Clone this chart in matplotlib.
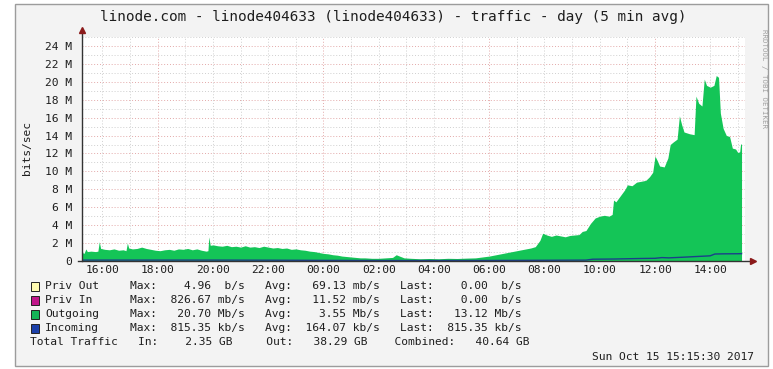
"""RRDtool style traffic graph for linode404633 (one day, 5 min avg)."""

import matplotlib
matplotlib.use("Agg")
import matplotlib.pyplot as plt
from matplotlib.patches import Rectangle


W, H = 773, 369
MONO = "DejaVu Sans Mono"
GREEN = "#14C557"
BLUE = "#1B3F8A"
MAJOR_GRID = "#E3A9A9"
MINOR_GRID = "#CFCFCF"
TEXT = "#1E1E1E"

# Outgoing traffic (Mb/s)
out_times = [
    "15:16", "15:20", "15:24", "15:27", "15:35", "15:45", "15:50", "15:53",
    "15:56", "16:05", "16:15", "16:25", "16:35", "16:45", "16:51", "16:54",
    "16:57", "17:05", "17:15", "17:25", "17:35", "17:45", "17:55", "18:05",
    "18:15", "18:25", "18:35", "18:45", "18:55", "19:05", "19:15", "19:25",
    "19:35", "19:45", "19:49", "19:51", "19:54", "20:00", "20:10", "20:20",
    "20:30", "20:40", "20:50", "21:00", "21:10", "21:20", "21:30", "21:40",
    "21:50", "22:00", "22:10", "22:20", "22:30", "22:40", "22:50", "23:00",
    "23:10", "23:20", "23:30", "23:40", "23:50", "00:00", "00:10", "00:20",
    "00:30", "00:40", "00:50", "01:00", "01:10", "01:20", "01:30", "01:45",
    "02:00", "02:15", "02:30", "02:38", "02:45", "02:55", "03:10", "03:30",
    "03:50", "04:10", "04:30", "04:50", "05:10", "05:30", "05:45", "06:00",
    "06:15", "06:30", "06:45", "07:00", "07:15", "07:30", "07:40", "07:50",
    "07:56", "08:05", "08:15", "08:25", "08:35", "08:45", "08:55", "09:05",
    "09:15", "09:22", "09:30", "09:40", "09:50", "10:00", "10:10", "10:20",
    "10:27", "10:30", "10:35", "10:45", "10:55", "11:00", "11:10", "11:20",
    "11:30", "11:40", "11:48", "11:55", "12:00", "12:05", "12:10", "12:20",
    "12:28", "12:33", "12:40", "12:48", "12:53", "12:58", "13:03", "13:15",
    "13:25", "13:29", "13:35", "13:42", "13:47", "13:52", "14:00", "14:08",
    "14:13", "14:18", "14:22", "14:28", "14:35", "14:42", "14:48", "14:55",
    "15:00", "15:04", "15:06", "15:08",
]
out_mbps = [
    0.95, 0.85, 1.35, 1.05, 1.10, 1.05, 1.10, 2.15,
    1.40, 1.30, 1.25, 1.35, 1.20, 1.25, 1.15, 2.00,
    1.45, 1.35, 1.40, 1.55, 1.40, 1.30, 1.20, 1.15,
    1.25, 1.30, 1.20, 1.35, 1.30, 1.40, 1.25, 1.35,
    1.20, 1.10, 1.15, 2.70, 1.75, 1.80, 1.70, 1.65,
    1.75, 1.60, 1.65, 1.55, 1.70, 1.55, 1.60, 1.50,
    1.65, 1.55, 1.45, 1.50, 1.40, 1.45, 1.30, 1.35,
    1.25, 1.20, 1.10, 1.05, 0.95, 0.85, 0.80, 0.70,
    0.65, 0.55, 0.50, 0.45, 0.40, 0.35, 0.35, 0.30,
    0.30, 0.35, 0.40, 0.70, 0.55, 0.35, 0.30, 0.25,
    0.28, 0.25, 0.30, 0.28, 0.32, 0.35, 0.45, 0.55,
    0.70, 0.85, 1.00, 1.15, 1.30, 1.45, 1.60, 2.30,
    3.10, 2.90, 2.75, 2.90, 2.80, 2.70, 2.85, 2.90,
    2.95, 3.30, 3.40, 4.20, 4.80, 5.00, 5.10, 5.00,
    5.20, 6.80, 6.60, 7.30, 8.00, 8.50, 8.40, 8.80,
    8.90, 9.00, 9.40, 9.90, 11.70, 11.20, 10.60, 10.50,
    11.50, 13.00, 13.30, 13.60, 16.20, 15.20, 14.40, 14.20,
    14.10, 18.40, 17.60, 17.30, 20.30, 19.60, 19.40, 19.60,
    20.70, 20.50, 16.50, 14.80, 14.00, 13.90, 12.60, 12.50,
    12.10, 12.20, 13.10, 13.00,
]

# Incoming traffic (Mb/s)
in_times = [
    "15:16", "18:00", "20:00", "22:00", "00:00", "02:00", "04:00", "06:00",
    "08:00", "09:30", "09:45", "10:30", "11:00", "11:30", "12:00", "12:15",
    "12:30", "13:00", "13:30", "13:50", "14:00", "14:10", "14:30", "15:00",
    "15:08",
]
in_mbps = [
    0.10, 0.10, 0.10, 0.09, 0.07, 0.05, 0.05, 0.06,
    0.08, 0.10, 0.20, 0.22, 0.25, 0.28, 0.30, 0.38,
    0.35, 0.42, 0.50, 0.55, 0.58, 0.78, 0.80, 0.81,
    0.82,
]

y_ticks = [0, 2, 4, 6, 8, 10, 12, 14, 16, 18, 20, 22, 24]
x_tick_hours = [16, 18, 20, 22, 24, 26, 28, 30, 32, 34, 36, 38]

# legend table
legend_names = ["Priv Out", "Priv In", "Outgoing", "Incoming"]
legend_colors = ["#FFFBB0", "#C0168A", "#14B457", "#1B3FA8"]
max_vals = [4.96, 826.67, 20.70, 815.35]
max_units = [" ", "m", "M", "k"]
avg_vals = [69.13, 11.52, 3.55, 164.07]
avg_units = ["m", "m", "M", "k"]
last_vals = [0.00, 0.00, 13.12, 815.35]
last_units = [" ", " ", "M", "k"]
total_in_gb = 2.35
total_out_gb = 38.29
total_comb_gb = 40.64

TITLE = "linode.com - linode404633 (linode404633) - traffic - day (5 min avg)"
STAMP = "Sun Oct 15 15:15:30 2017"
T_START = 15 + 15.5 / 60


def to_hours(stamps):
    """Turn HH:MM strings into running hours, rolling over midnight."""
    hours, day, prev = [], 0, None
    for s in stamps:
        h, m = s.split(":")
        v = int(h) + int(m) / 60
        if prev is not None and v < prev:
            day += 24
        prev = v
        hours.append(v + day)
    return hours


def fx(x):
    return x / W


def fy(y):
    return 1 - y / H


fig = plt.figure(figsize=(W / 100, H / 100), dpi=100, facecolor="white")

# canvas frame
fig.add_artist(Rectangle((fx(15), fy(366)), (768 - 15) / W, (366 - 4) / H,
                         transform=fig.transFigure, facecolor="#F3F3F3",
                         edgecolor="#9C9C9C", lw=1.0, zorder=-5))

ax = fig.add_axes([fx(82), fy(261), (745 - 82) / W, (261 - 37) / H])
ax.set_facecolor("white")
ax.set_xlim(T_START, T_START + 24)
ax.set_ylim(0, 25)

# grid: 1 M / 1 hour minor, 2 M / 6 hours major
for v in range(1, 26):
    ax.axhline(v, color=MAJOR_GRID if v % 2 == 0 else MINOR_GRID,
               lw=0.7, ls=(0, (1, 2)), zorder=1)
for h in range(16, 40):
    ax.axvline(h, color=MAJOR_GRID if h % 6 == 0 else MINOR_GRID,
               lw=0.7, ls=(0, (1, 2)), zorder=1)

ax.fill_between(to_hours(out_times), 0, out_mbps, color=GREEN, lw=0,
                zorder=2)
ax.plot(to_hours(in_times), in_mbps, color=BLUE, lw=1.0, zorder=3)

for s in ax.spines.values():
    s.set_visible(False)
ax.plot([-0.006, 1.008], [0, 0], transform=ax.transAxes, color="#333333",
         lw=1.0, clip_on=False, zorder=4)
ax.plot([0, 0], [0, 1.02], transform=ax.transAxes, color="#333333",
         lw=1.0, clip_on=False, zorder=4)
ax.plot([1.012], [0], transform=ax.transAxes, marker=">", ms=5,
        color="#8B1A1A", clip_on=False, zorder=5)
ax.plot([0], [1.03], transform=ax.transAxes, marker="^", ms=5,
        color="#8B1A1A", clip_on=False, zorder=5)

ax.set_yticks(y_ticks)
ax.set_yticklabels(["%d M" % v if v else "0" for v in y_ticks])
ax.set_xticks(x_tick_hours)
ax.set_xticklabels(["%02d:00" % (h % 24) for h in x_tick_hours])
ax.tick_params(axis="both", length=0, labelsize=8.1, colors=TEXT)
ax.tick_params(axis="y", pad=7)
ax.tick_params(axis="x", pad=3)
for lab in ax.get_xticklabels() + ax.get_yticklabels():
    lab.set_family(MONO)

fig.text(fx(393), fy(17), TITLE, ha="center", va="center", fontsize=10.4,
         family=MONO, color=TEXT)
fig.text(fx(27), fy(148), "bits/sec", rotation=90, ha="center",
         va="center", fontsize=8.1, family=MONO, color=TEXT)
fig.text(fx(764), fy(29), "RRDTOOL / TOBI OETIKER", rotation=270,
         ha="center", va="top", fontsize=5.3, family=MONO, color="#A0A0A0")

# legend rows
row_y = [286, 300, 314, 328]
for i, name in enumerate(legend_names):
    y = row_y[i]
    fig.add_artist(Rectangle((fx(31), fy(y + 4.5)), 8 / W, 9 / H,
                             transform=fig.transFigure,
                             facecolor=legend_colors[i], edgecolor="#222222",
                             lw=0.7))
    fig.text(fx(45), fy(y), name, ha="left", va="center", fontsize=8.1,
             family=MONO, color=TEXT)
    stats = "Max:%8.2f %sb/s   Avg:%8.2f %sb/s   Last:%8.2f %sb/s" % (
        max_vals[i], max_units[i], avg_vals[i], avg_units[i],
        last_vals[i], last_units[i])
    fig.text(fx(130.5), fy(y), stats, ha="left", va="center", fontsize=8.1,
             family=MONO, color=TEXT)

total = "Total Traffic   In:%8.2f GB     Out:%8.2f GB    Combined:%8.2f GB" % (
    total_in_gb, total_out_gb, total_comb_gb)
fig.text(fx(30.5), fy(342), total, ha="left", va="center", fontsize=8.1,
         family=MONO, color=TEXT)
fig.text(fx(754), fy(357), STAMP, ha="right", va="center", fontsize=8.1,
         family=MONO, color=TEXT)

fig.savefig("out.png", dpi=100, facecolor="white")
